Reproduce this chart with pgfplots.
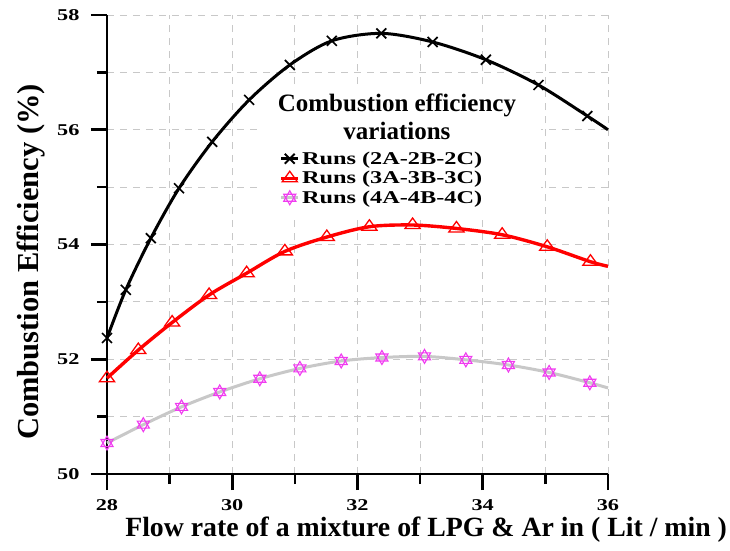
\documentclass[border=0pt]{standalone}
\usepackage{fontspec}
\setmainfont{Liberation Serif}
\newfontfamily\legfont[FakeStretch=1.35]{Liberation Serif}
\usepackage{pgfplots}
\pgfplotsset{compat=1.18}
\definecolor{starpink}{RGB}{240,60,240}
\definecolor{lgray}{RGB}{200,200,200}
\definecolor{gridgray}{RGB}{200,200,200}

\pgfdeclareplotmark{hexagram}{%
  \pgfpathmoveto{\pgfqpointpolar{90}{\pgfplotmarksize}}%
  \pgfpathlineto{\pgfqpointpolar{210}{\pgfplotmarksize}}%
  \pgfpathlineto{\pgfqpointpolar{330}{\pgfplotmarksize}}%
  \pgfpathclose
  \pgfpathmoveto{\pgfqpointpolar{270}{\pgfplotmarksize}}%
  \pgfpathlineto{\pgfqpointpolar{30}{\pgfplotmarksize}}%
  \pgfpathlineto{\pgfqpointpolar{150}{\pgfplotmarksize}}%
  \pgfpathclose
  \pgfusepathqstroke}

\pgfplotstableread{
x y
28.00 52.37
28.30 53.21
28.70 54.11
29.15 54.98
29.68 55.79
30.27 56.52
30.92 57.13
31.59 57.55
32.38 57.68
33.20 57.53
34.05 57.22
34.89 56.78
35.67 56.24
36.00 56.00
}\blackline
\pgfplotstableread{
x y
28.00 52.37
28.30 53.21
28.70 54.11
29.15 54.98
29.68 55.79
30.27 56.52
30.92 57.13
31.59 57.55
32.38 57.68
33.20 57.53
34.05 57.22
34.89 56.78
35.67 56.24
}\blackmarks
\pgfplotstableread{
x y
28.00 51.67
28.50 52.16
29.04 52.64
29.63 53.12
30.23 53.50
30.84 53.88
31.51 54.13
32.19 54.31
32.88 54.34
33.58 54.28
34.31 54.17
35.03 53.96
35.72 53.70
36.00 53.62
}\redline
\pgfplotstableread{
x y
28.00 51.67
28.50 52.16
29.04 52.64
29.63 53.12
30.23 53.50
30.84 53.88
31.51 54.13
32.19 54.31
32.88 54.34
33.58 54.28
34.31 54.17
35.03 53.96
35.72 53.70
}\redmarks
\pgfplotstableread{
x y
28.00 50.54
28.58 50.86
29.19 51.17
29.80 51.43
30.44 51.66
31.08 51.84
31.74 51.97
32.39 52.03
33.07 52.05
33.73 51.99
34.41 51.90
35.06 51.77
35.71 51.59
36.00 51.50
}\pinkline
\pgfplotstableread{
x y
28.00 50.54
28.58 50.86
29.19 51.17
29.80 51.43
30.44 51.66
31.08 51.84
31.74 51.97
32.39 52.03
33.07 52.05
33.73 51.99
34.41 51.90
35.06 51.77
35.71 51.59
}\pinkmarks

\begin{document}
\begin{tikzpicture}
\path[use as bounding box] (-107pt,-76pt) rectangle (623pt,474pt);
\begin{axis}[
  scale only axis,
  width=501pt, height=459pt,
  xmin=28, xmax=36, ymin=50, ymax=58,
  axis lines=left,
  axis line style={-, line width=2.8pt},
  tick align=outside,
  xtick={28,30,32,34,36}, ytick={50,52,54,56,58},
  minor xtick={29,31,33,35}, minor ytick={51,53,55,57},
  major tick length=16pt, minor tick length=10pt,
  every tick/.style={black, line width=2.6pt},
  grid=both,
  major grid style={gridgray, line width=0.9pt, dash pattern=on 7pt off 6pt},
  minor grid style={gridgray, line width=0.9pt, dash pattern=on 7pt off 6pt},
  /pgf/number format/assume math mode=true,
  tick label style={font=\legfont\bfseries\fontsize{16.5}{19}\selectfont},
  yticklabel style={xshift=-8pt},
  xticklabel style={yshift=-6pt},
  xlabel={Flow rate of a mixture of LPG \& Ar in ( Lit / min )},
  ylabel={Combustion Efficiency (\%)},
  xlabel style={font=\bfseries\fontsize{27.8}{31}\selectfont, at={(axis description cs:0.637,-0.121)}, anchor=center},
  ylabel style={font=\bfseries\fontsize{30.5}{34}\selectfont, at={(axis description cs:-0.152,0.462)}, anchor=center},
  legend style={at={(axis description cs:0.342,0.709)}, anchor=north west, draw=none, fill=white,
    font=\legfont\bfseries\fontsize{18}{20}\selectfont, inner sep=1pt, row sep=1.5pt},
  legend cell align=left,
  clip=false,
]
\fill[white] (axis cs:30.41,54.51) rectangle (axis cs:34.93,56.73);
\addplot[black, line width=3pt, smooth, forget plot] table {\blackline};
\addplot[red, line width=3.4pt, smooth, forget plot] table {\redline};
\addplot[lgray, line width=3pt, smooth, forget plot] table {\pinkline};
\addplot[only marks, mark=x, mark size=7pt, mark options={black, line width=1.7pt}, forget plot] table {\blackmarks};
\addplot[only marks, mark=triangle, mark size=7pt, mark options={red, line width=1.3pt, xscale=1.25}, forget plot] table {\redmarks};
\addplot[only marks, mark=hexagram, mark size=7pt, mark options={starpink, line width=1.1pt}, forget plot] table {\pinkmarks};
\addlegendimage{black, line width=3pt, mark=x, mark size=7pt, mark options={line width=2pt}}
\addlegendentry{Runs (2A-2B-2C)}
\addlegendimage{red, line width=3.4pt, mark=triangle, mark size=7pt, mark options={red, line width=1.3pt, xscale=1.25}}
\addlegendentry{Runs (3A-3B-3C)}
\addlegendimage{lgray, line width=3pt, mark=hexagram, mark size=7pt, mark options={starpink, line width=1.1pt}}
\addlegendentry{Runs (4A-4B-4C)}
\node[font=\bfseries\fontsize{25}{28}\selectfont, align=center, fill=none] at (axis cs:32.63,56.22) {Combustion efficiency\\variations};
\end{axis}
\end{tikzpicture}
\end{document}
